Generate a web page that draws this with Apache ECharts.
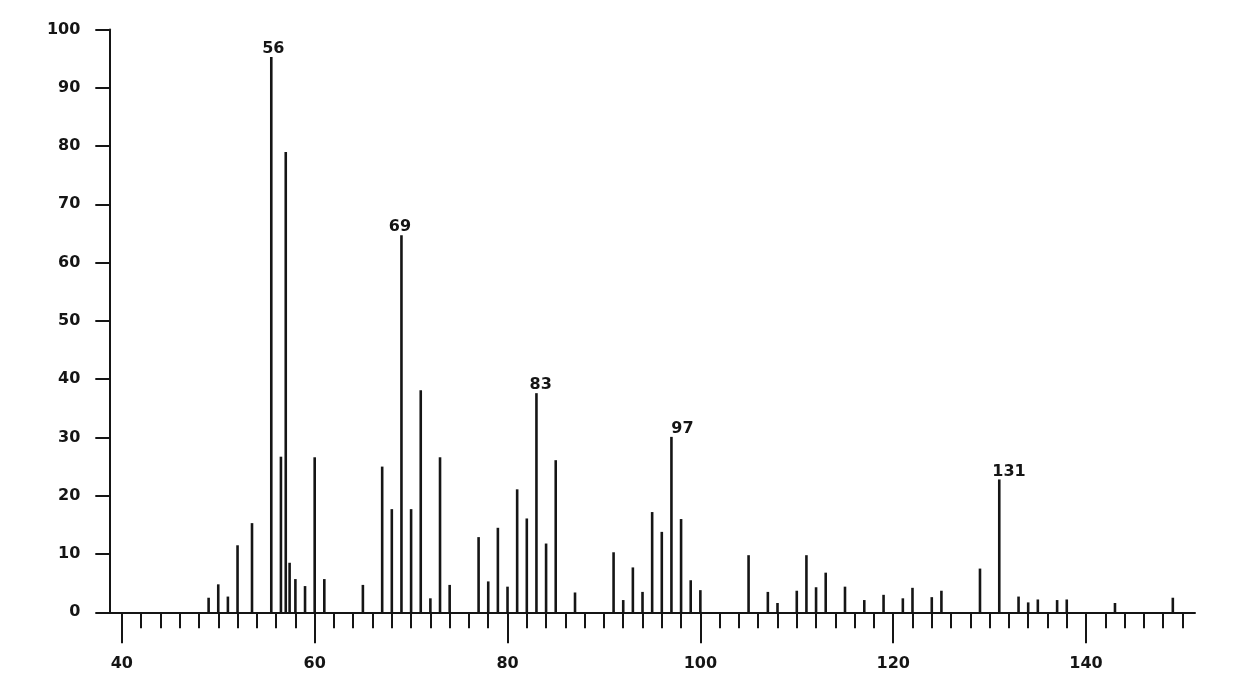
<!DOCTYPE html>
<html>
<head>
<meta charset="utf-8">
<script src="https://cdn.jsdelivr.net/npm/echarts@6/dist/echarts.min.js"></script>
<style>
  html, body { margin: 0; padding: 0; background: #ffffff; }
  #chart { width: 1248px; height: 696px; }
</style>
</head>
<body>
<div id="chart"></div>
<script>
// m/z positions of the peaks
const mz = [49, 50, 51, 52, 53.5, 55.5, 56.5, 57, 57.4, 58, 59, 60, 61,
  65, 67, 68, 69, 70, 71, 72, 73, 74, 77, 78, 79, 80, 81, 82, 83, 84, 85, 87,
  91, 92, 93, 94, 95, 96, 97, 98, 99, 100, 105, 107, 108, 110, 111, 112, 113, 115, 117,
  119, 121, 122, 124, 125, 129, 131, 133, 134, 135, 137, 138, 143, 149];
// relative intensity (%)
const intensity = [2.5, 4.8, 2.7, 11.5, 15.3, 95.3, 26.7, 79, 8.5, 5.7, 4.5, 26.6, 5.7,
  4.7, 25.0, 17.7, 64.7, 17.7, 38.1, 2.4, 26.6, 4.7, 12.9, 5.3, 14.5, 4.4, 21.1, 16.1, 37.6, 11.8, 26.1, 3.4,
  10.3, 2.1, 7.7, 3.5, 17.2, 13.8, 30.1, 16.0, 5.5, 3.8, 9.8, 3.5, 1.6, 3.7, 9.8, 4.3, 6.8, 4.4, 2.1,
  3.0, 2.4, 4.2, 2.6, 3.7, 7.5, 22.8, 2.7, 1.7, 2.2, 2.1, 2.2, 1.6, 2.5];
// annotated peaks
const labelAt = [55.5, 69, 83, 97, 131];
const labelText = ['56', '69', '83', '97', '131'];
// tick labels
const xMajorTicks = [40, 60, 80, 100, 120, 140];
const xMinorTicks = [40, 42, 44, 46, 48, 50, 52, 54, 56, 58, 60, 62, 64, 66, 68, 70, 72, 74, 76, 78, 80,
  82, 84, 86, 88, 90, 92, 94, 96, 98, 100, 102, 104, 106, 108, 110, 112, 114, 116, 118, 120,
  122, 124, 126, 128, 130, 132, 134, 136, 138, 140, 142, 144, 146, 148, 150];

// styling (label horizontal nudges, px)
const labelDx = [2, -1.5, 4.3, 11, 9.7];

const INK = '#151515';
const FONT = 'DejaVu Sans';

const data = mz.map((m, i) => {
  const item = { value: [m, intensity[i]] };
  const li = labelAt.indexOf(m);
  if (li >= 0) {
    item.label = {
      show: true,
      position: 'top',
      distance: 0,
      offset: [labelDx[li], 0],
      formatter: labelText[li],
      fontFamily: FONT,
      fontWeight: 'bold',
      fontSize: 16,
      color: INK
    };
  }
  return item;
});

const chart = echarts.init(document.getElementById('chart'), null, { renderer: 'canvas' });
chart.setOption({
  animation: false,
  backgroundColor: '#ffffff',
  grid: {
    left: 109.3, right: 53, top: 29.5, bottom: 83.7,
    containLabel: false,
    outerBoundsMode: 'none'
  },
  xAxis: [
    {
      type: 'value',
      min: 38.7, max: 151.3,
      position: 'bottom',
      axisLine: { show: true, onZero: false, lineStyle: { color: INK, width: 2 } },
      axisTick: { show: true, customValues: xMajorTicks, length: 31, lineStyle: { color: INK, width: 2 } },
      axisLabel: {
        show: true, customValues: xMajorTicks, margin: 44,
        fontFamily: FONT, fontWeight: 'bold', fontSize: 16, color: INK
      },
      splitLine: { show: false }
    },
    {
      type: 'value',
      min: 38.7, max: 151.3,
      position: 'bottom',
      offset: 0,
      axisLine: { show: false },
      axisTick: { show: true, customValues: xMinorTicks, length: 16, lineStyle: { color: INK, width: 2 } },
      axisLabel: { show: false },
      splitLine: { show: false }
    }
  ],
  yAxis: {
    type: 'value',
    min: 0, max: 100, interval: 10,
    axisLine: { show: true, onZero: false, lineStyle: { color: INK, width: 2 } },
    axisTick: { show: true, length: 14, lineStyle: { color: INK, width: 2 } },
    axisLabel: {
      margin: 29,
      fontFamily: FONT, fontWeight: 'bold', fontSize: 16, color: INK
    },
    splitLine: { show: false }
  },
  series: [{
    type: 'bar',
    xAxisIndex: 0,
    barWidth: 2.6,
    itemStyle: { color: INK },
    data: data
  }]
});
</script>
</body>
</html>
